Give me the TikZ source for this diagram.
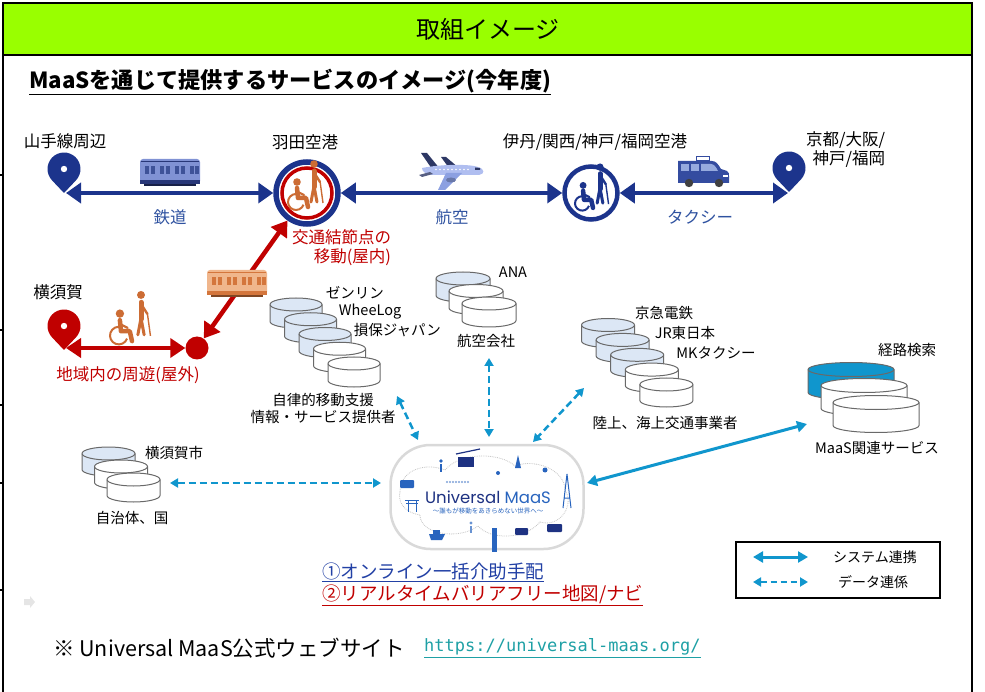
\documentclass[tikz,border=0pt]{standalone}
\usepackage{fontspec}
\setmainfont{Noto Sans CJK JP}
\newfontfamily\logofont{Poppins}
\newfontfamily\urlfont{DejaVu Sans Mono}
\usetikzlibrary{arrows.meta}

\definecolor{hdrgreen}{RGB}{153,255,0}
\definecolor{railblue}{RGB}{28,52,140}
\definecolor{lblblue}{RGB}{47,82,160}
\definecolor{nodered}{RGB}{192,0,0}
\definecolor{iconorange}{RGB}{204,108,52}
\definecolor{linkteal}{RGB}{16,150,205}
\definecolor{canblue}{RGB}{220,231,245}
\definecolor{cangray}{RGB}{105,105,105}
\definecolor{urlteal}{RGB}{30,160,165}
\definecolor{trainblue}{RGB}{128,146,212}
\definecolor{trainwin}{RGB}{62,82,152}
\definecolor{trainband}{RGB}{40,55,120}
\definecolor{peach}{RGB}{240,182,140}
\definecolor{peachdark}{RGB}{212,118,60}
\definecolor{planebody}{RGB}{176,190,240}
\definecolor{planewing}{RGB}{140,160,225}
\definecolor{planedark}{RGB}{45,55,100}
\definecolor{taxiblue}{RGB}{52,76,160}
\definecolor{taxiwin}{RGB}{150,170,222}
\definecolor{umnavy}{RGB}{30,50,130}
\definecolor{umblue}{RGB}{40,100,190}
\definecolor{onlineblue}{RGB}{35,65,165}

% map pin at #1,#2 in colour #3, tip below the centre
\newcommand\drawpin[3]{%
  \begin{scope}[shift={(#1,#2)}]
    \fill[#3] (43.4:16.5) arc[start angle=43.4, end angle=-223.4, radius=16.5] -- (0,24) -- cycle;
    \fill[white] (0,0) circle[radius=3.2];
  \end{scope}}
% database can at #1,#2: width #3, height #4, ellipse radius #5, fill #6
\newcommand\drawcan[6]{%
  \begin{scope}[shift={(#1,#2)}]
    \path[draw=cangray, line width=1pt, fill=#6]
      (-#3/2,-#4/2+#5) -- (-#3/2,#4/2-#5)
      arc[start angle=180, end angle=0, x radius=#3/2, y radius=#5]
      -- (#3/2,-#4/2+#5)
      arc[start angle=0, end angle=-180, x radius=#3/2, y radius=#5] -- cycle;
    \draw[cangray, line width=1pt] (-#3/2,-#4/2+#5)
      arc[start angle=180, end angle=0, x radius=#3/2, y radius=#5];
  \end{scope}}
% wheelchair user at #1,#2, scale #3, colour #4
\newcommand\drawwheeler[4]{%
  \begin{scope}[shift={(#1,#2)}, scale=#3]
    \fill[#4] (-1,-14) circle[radius=3.8];
    \draw[#4, line width=4.5pt, line cap=round, line join=round] (-1,-8) -- (0,2) -- (8,2) -- (10,11);
    \draw[#4, line width=2.2pt, line cap=round] (0,-4) -- (6,-1);
    \draw[#4, line width=2pt] (-2,6) ++(20:8) arc[start angle=20, end angle=290, radius=8];
  \end{scope}}
% walker with cane at #1,#2, scale #3, colour #4
\newcommand\drawwalker[4]{%
  \begin{scope}[shift={(#1,#2)}, scale=#3]
    \fill[#4] (0,-21) circle[radius=3.8];
    \draw[#4, line width=5pt, line cap=round] (0,-14) -- (0,2);
    \draw[#4, line width=3pt, line cap=round] (0,1) -- (-3,17) (0,1) -- (3,17);
    \draw[#4, line width=2.4pt, line cap=round] (1,-11) -- (6,-3);
    \draw[#4, line width=1.4pt] (6,-4) -- (9,18);
  \end{scope}}
% train at #1,#2: body #3, windows #4, band #5
\newcommand\drawtrain[5]{%
  \begin{scope}[shift={(#1,#2)}]
    \fill[#3, rounded corners=3pt] (-30,-13) rectangle (30,12);
    \fill[#5] (-29,-11) rectangle (29,-9.5);
    \foreach \wx in {-25,-19,-10,-4,5,11,20,25}
      \fill[#4] (\wx,-6) rectangle ++(3.5,8);
    \fill[#5] (-30,8) rectangle (30,12);
    \fill[#5!60!black] (-26,12) rectangle (26,14);
  \end{scope}}
\newcommand\drawplane[2]{%
  \begin{scope}[shift={(#1,#2)}]
    \fill[planedark] (-3,-3) -- (-11,-14) -- (-6,-14) -- (7,-3) -- cycle;
    \fill[planedark] (-20,-2) -- (-31,-18) -- (-25,-18) -- (-12,-2) -- cycle;
    \fill[planebody] (-30,-3) .. controls (-10,-7) and (18,-7) .. (26,-4)
      .. controls (33,-2) and (33,3) .. (27,4) -- (-20,4)
      .. controls (-26,3) and (-30,1) .. (-30,-3) -- cycle;
    \fill[planedark] (23,-3.5) -- (28,-3) -- (28,-1) -- (23,-1) -- cycle;
    \foreach \wx in {-16,-12,...,16} \fill[white] (\wx,-1.5) circle[radius=0.9];
    \fill[planedark!80] (-22,1) -- (-33,4) -- (-30,6) -- (-19,3) -- cycle;
    \fill[planewing] (-6,2) -- (-14,19) -- (-7,19) -- (10,2) -- cycle;
    \fill[planewing!75!black] (-1,9) ellipse[x radius=5, y radius=2.5];
  \end{scope}}
\newcommand\drawtaxi[2]{%
  \begin{scope}[shift={(#1,#2)}]
    \fill[taxiblue] (-25,-11) -- (9,-11) .. controls (13,-11) and (15,-8) .. (18,-3)
      -- (24,-1) .. controls (26,0) and (26,2) .. (26,4) -- (26,11) -- (-25,11) -- cycle;
    \fill[taxiwin] (-22,-8) rectangle (-14,-1);
    \fill[taxiwin] (-12,-8) rectangle (-4,-1);
    \fill[taxiwin] (-2,-8) -- (8,-8) .. controls (11,-8) and (13,-5) .. (15,-1) -- (-2,-1) -- cycle;
    \fill[white, draw=taxiblue, line width=0.8pt] (-7,-16) rectangle (6,-11.5);
    \fill[black!75] (-14,11) circle[radius=4.2];
    \fill[black!75] (16,11) circle[radius=4.2];
    \fill[white] (20,3) rectangle (25,5.5);
  \end{scope}}

\begin{document}
\begin{tikzpicture}[x=1pt,y=1pt,yscale=-1,
  lbl/.style={inner sep=0.75pt, font=\fontsize{16.5}{19}\selectfont},
  canlbl/.style={inner sep=0.75pt, font=\fontsize{14.5}{17}\selectfont},
  hub/.style={circle, draw=railblue, fill=white, inner sep=0pt},
  railarrow/.style={railblue, line width=4pt, {Triangle[length=15pt,width=20pt]}-{Triangle[length=15pt,width=20pt]}},
  walkarrow/.style={nodered, line width=4.5pt, {Triangle[length=15pt,width=19pt]}-{Triangle[length=15pt,width=19pt]}},
  syslink/.style={linkteal, line width=3pt, {Triangle[length=10pt,width=11pt]}-{Triangle[length=10pt,width=11pt]}},
  datalink/.style={linkteal, line width=2.5pt, dash pattern=on 7pt off 4pt, {Triangle[length=8pt,width=9pt]}-{Triangle[length=8pt,width=9pt]}},
]
\useasboundingbox (0,0) rectangle (985,692);

%Header and frame
\draw[line width=2.5pt, fill=hdrgreen] (3,3) rectangle (972,55);
\draw[line width=2.5pt] (3,55) -- (3,700) (972,55) -- (972,700);
\foreach \ty in {175,330,405,483,590} \draw[line width=1.5pt] (0,\ty) -- (4,\ty);
% Text Node
\node[font=\fontsize{24}{26}\selectfont] (title) at (488,29) {取組イメージ};
% Text Node
\node[anchor=west, inner sep=0pt, font=\bfseries\fontsize{22.2}{25}\selectfont] (subtitle) at (29,82) {\underline{MaaSを通じて提供するサービスのイメージ(今年度)}};

%Transfer hubs
\node[hub, minimum size=62pt, line width=5.5pt] (haneda) at (307,193) {};
\draw[nodered, line width=3.5pt] (haneda.center) circle[radius=25];
\node[hub, minimum size=53pt, line width=4.5pt] (itami) at (591,193) {};
\node[circle, fill=nodered, minimum size=23pt, inner sep=0pt] (reddot) at (197,348) {};
\coordinate (yamanote) at (66,193);
\coordinate (kyoto) at (788,193);
\coordinate (yokosuka) at (66,348);

%Straight Lines
\draw[railarrow] (yamanote) -- (haneda);
\draw[railarrow] (haneda) -- (itami);
\draw[railarrow] (itami) -- (kyoto);
\draw[walkarrow] (yokosuka) -- (reddot);
\draw[walkarrow] (reddot) -- (haneda);

%Pins
\drawpin{64}{169}{railblue}
\drawpin{789}{168}{railblue}
\drawpin{64}{326}{nodered}

%Figures
\drawwheeler{298}{196}{1}{iconorange}
\drawwalker{314}{185}{1}{iconorange}
\drawwheeler{584}{198}{0.9}{railblue}
\drawwalker{600}{187}{0.95}{railblue}
\drawwheeler{121}{329}{1.1}{iconorange}
\drawwalker{141}{317}{1.05}{iconorange}

%Vehicles
\drawtrain{170}{172}{trainblue}{trainwin}{trainband}
\drawtrain{237}{283}{peach}{peachdark}{peachdark}
\drawplane{452}{171}
\drawtaxi{703}{172}

% Text Node
\node[lbl] (yamanotelbl) at (65,141) {山手線周辺};
\node[lbl] (hanedalbl) at (305,142) {羽田空港};
\node[lbl] (itamilbl) at (595,142) {伊丹/関西/神戸/福岡空港};
\node[lbl, anchor=east, align=right] (kyotolbl) at (886,150) {京都/大阪/\\神戸/福岡};
\node[lbl, text=lblblue] (raillbl) at (170,217) {鉄道};
\node[lbl, text=lblblue] (airlbl) at (452,217) {航空};
\node[lbl, text=lblblue] (taxilbl) at (700,217) {タクシー};
\node[lbl] (yokosukalbl) at (58,292) {横須賀};
\node[lbl, text=nodered] (tourlbl) at (128,375) {地域内の周遊(屋外)};
\node[lbl, text=nodered, anchor=north east, align=right] (hublbl) at (392,229) {交通結節点の\\移動(屋内)};

%Shape: Can stacks
\foreach \cx/\cy/\cf in {296/313/canblue, 310.5/327.75/canblue, 325/342.5/canblue, 339.5/357.25/white, 354/372/white}
  {\drawcan{\cx}{\cy}{52}{30}{6.5}{\cf}}
\foreach \cx/\cy/\cf in {463/287/canblue, 476/299.5/white, 489/312/white}
  {\drawcan{\cx}{\cy}{54}{30}{6.5}{\cf}}
\foreach \cx/\cy/\cf in {608/333/canblue, 622.6/347.9/canblue, 637.2/362.8/canblue, 651.8/377.6/white, 666.4/392.5/white}
  {\drawcan{\cx}{\cy}{53}{29}{6.5}{\cf}}
\foreach \cx/\cy/\cf in {851/381/linkteal, 864/397/white, 876/414/white}
  {\drawcan{\cx}{\cy}{86}{37}{7}{\cf}}
\foreach \cx/\cy/\cf in {108.5/461.5/canblue, 121/474.5/white, 133.5/487.5/white}
  {\drawcan{\cx}{\cy}{53}{29}{6.5}{\cf}}

% Text Node
\node[canlbl, anchor=west] (zenrin) at (325,293) {ゼンリン};
\node[canlbl, anchor=west] (wheelog) at (338,312) {WheeLog};
\node[canlbl, anchor=west] (sompo) at (353,330) {損保ジャパン};
\node[canlbl, align=center] (supportlbl) at (323,408) {自律的移動支援\\情報・サービス提供者};
\node[canlbl] (ana) at (513,272) {ANA};
\node[canlbl] (airlinelbl) at (486,341) {航空会社};
\node[canlbl] (keikyu) at (664,313) {京急電鉄};
\node[canlbl] (jreast) at (685,333) {JR東日本};
\node[canlbl] (mktaxi) at (716,353) {MKタクシー};
\node[canlbl] (operatorlbl) at (665,423) {陸上、海上交通事業者};
\node[canlbl] (routelbl) at (907,350) {経路検索};
\node[canlbl] (maaslbl) at (877,448) {MaaS関連サービス};
\node[canlbl] (citylbl) at (174,453) {横須賀市};
\node[canlbl] (govlbl) at (132,518) {自治体、国};

%Universal MaaS platform
\node[draw=gray!30, line width=2.5pt, fill=white, rounded corners=40pt, minimum width=193pt, minimum height=104pt] (umaas) at (487,497) {};
\draw[gray!45, densely dotted, line width=0.8pt] (400,492) .. controls (400,470) and (425,462) .. (445,470)
  .. controls (460,452) and (500,452) .. (515,466) .. controls (535,458) and (565,470) .. (565,490)
  .. controls (575,505) and (560,528) .. (540,522) .. controls (525,540) and (490,540) .. (478,526)
  .. controls (460,540) and (420,535) .. (420,515) .. controls (402,512) and (398,500) .. (400,492);
\fill[umblue, rounded corners=1pt] (400,480) rectangle (414,488);
\draw[umblue, line width=1pt] (405,500) -- (419,500) (406,503) -- (418,503) (408,500) -- (408,512) (416,500) -- (416,512);
\fill[umblue] (441,461) circle[radius=1.8];
\draw[umblue, line width=1.6pt] (441,464) -- (441,472);
\fill[umnavy] (458,457) rectangle (474,467);
\draw[umnavy, line width=1.2pt] (456,454) -- (480,449);
\fill[umblue] (518,455) -- (521,468) -- (515,468) -- cycle;
\fill[umblue] (545,470) circle[radius=2.5];
\draw[umblue, line width=1pt] (567,474) -- (563,508) (567,474) -- (571,508) (564,498) -- (570,498);
\fill[umblue] (498,473) circle[radius=2];
\fill[umblue] (429,534) -- (445,534) -- (442,540) -- (431,540) -- cycle;
\fill[umblue] (433,530) rectangle (440,534);
\fill[umblue!70] (471,523) circle[radius=1.6];
\draw[umblue!70, line width=1.4pt] (471,526) -- (471,533);
\fill[umblue] (492,528) rectangle (497,552);
\fill[umnavy, rounded corners=1pt] (515,528) rectangle (528,535);
\fill[umnavy, rounded corners=1pt] (547,524) rectangle (562,532);
\foreach \bx in {447,450,...,468} \fill[umblue!60] (\bx,482) circle[radius=1.1];
\node[inner sep=0pt, font=\logofont\fontsize{16.5}{16.5}\selectfont] (umtitle) at (488,497) {\textcolor{umnavy}{Universal} \textcolor{umblue}{MaaS}};
\node[inner sep=0pt, text=umblue, font=\fontsize{6.5}{7}\selectfont] (umsub) at (488,511) {〜誰もが移動をあきらめない世界へ〜};

%Data links
\coordinate (zenrinlink) at (397,396); \coordinate (zenrinend) at (418,440);
\coordinate (airlinelink) at (489,358); \coordinate (airlineend) at (489,437);
\coordinate (operatorlink) at (584,388); \coordinate (operatorend) at (533,442);
\coordinate (citylink) at (170,483); \coordinate (cityend) at (381,483);
\coordinate (maaslink) at (807,424); \coordinate (maasend) at (587,483);
\draw[datalink] (zenrinlink) -- (zenrinend);
\draw[datalink] (airlinelink) -- (airlineend);
\draw[datalink] (operatorlink) -- (operatorend);
\draw[datalink] (citylink) -- (cityend);
\draw[syslink] (maasend) -- (maaslink);

% Text Node
\node[anchor=west, inner sep=0pt, text=onlineblue, font=\fontsize{18.5}{21}\selectfont] (service1) at (322,572) {\underline{①オンライン一括介助手配}};
\node[anchor=west, inner sep=0pt, text=nodered, font=\fontsize{18.5}{21}\selectfont] (service2) at (322,595) {\underline{②リアルタイムバリアフリー地図/ナビ}};

%Legend
\node[draw=black, line width=1.2pt, minimum width=204pt, minimum height=56pt, inner sep=0pt] (legend) at (838,570) {};
\coordinate (sysA) at (753,557); \coordinate (sysB) at (808,557);
\coordinate (dataA) at (753,582); \coordinate (dataB) at (808,582);
\draw[syslink] (sysA) -- (sysB);
\draw[datalink, dash pattern=on 6pt off 4pt] (dataA) -- (dataB);
\node[canlbl, font=\fontsize{14}{16}\selectfont] (syslbl) at (875,557) {システム連携};
\node[canlbl, font=\fontsize{14}{16}\selectfont] (datalbl) at (873,582) {データ連係};

%Small mark
\fill[gray!20] (24,599) -- (30,599) -- (30,596) -- (35,602) -- (30,608) -- (30,605) -- (24,605) -- cycle;

% Text Node
\node[anchor=west, inner sep=0pt, font=\fontsize{21.5}{24}\selectfont] (sitenote) at (53,648) {※ Universal MaaS公式ウェブサイト};
\node[anchor=west, inner sep=0pt, text=urlteal, font=\urlfont\fontsize{17}{20}\selectfont] (siteurl) at (424,648) {\underline{https://universal-maas.org/}};
\end{tikzpicture}
\end{document}
